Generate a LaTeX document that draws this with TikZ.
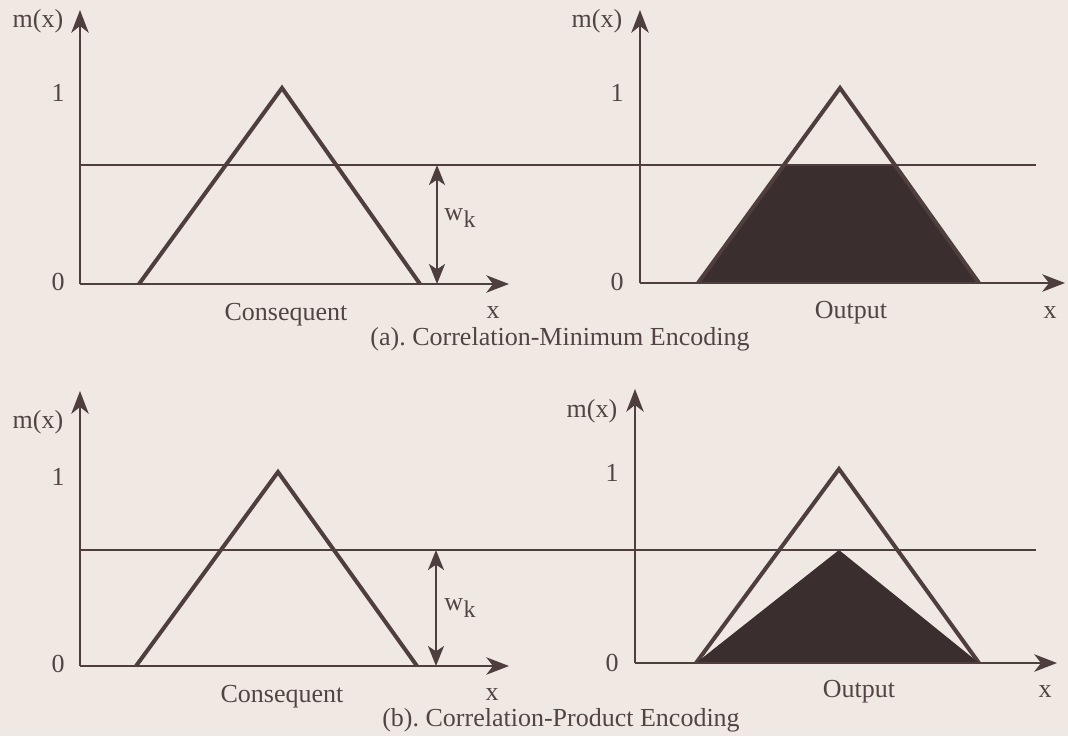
\documentclass[tikz,border=0pt]{standalone}
\usepackage{fontspec}
\setmainfont{Liberation Serif}
\usetikzlibrary{arrows.meta}
\frenchspacing
\definecolor{paper}{RGB}{240,233,227}
\definecolor{ink}{RGB}{78,62,62}
\definecolor{inkfill}{RGB}{58,46,46}
\definecolor{txt}{RGB}{82,68,68}
\newcommand{\wksym}{w\kern0.5pt\raisebox{-0.55ex}{\fontsize{18}{20}\selectfont k}}
\tikzset{
  axis/.style={draw=ink, line width=2pt, -{Stealth[length=17pt,width=13pt,inset=5pt]}},
  level/.style={draw=ink, line width=2pt},
  tri/.style={draw=ink, line width=3pt, line join=miter},
  shade/.style={fill=inkfill},
  wkarrow/.style={draw=ink, line width=1.6pt, {Stealth[length=15pt,width=12pt,inset=4pt]}-{Stealth[length=15pt,width=12pt,inset=4pt]}},
  lbl/.style={font=\fontsize{19.5}{22}\selectfont, text=txt, inner sep=0pt},
}
\begin{document}
\begin{tikzpicture}[x=0.75pt, y=-0.75pt]
\fill[paper] (0,0) rectangle (1068,736);
\useasboundingbox (0,0) rectangle (1068,736);

% ---------- (a) left ----------
\coordinate (aLo) at (80,284);
\coordinate (aLy) at (80,10);
\coordinate (aLx) at (509,284);
\draw[axis] (aLo) -- (aLy);
\draw[axis] (aLo) -- (aLx);
\coordinate (aLb1) at (139,284);
\coordinate (aLp) at (282,88);
\coordinate (aLb2) at (420,284);
\draw[tri] (aLb1) -- (aLp) -- (aLb2);
\coordinate (aHs) at (80,165);
\coordinate (aHe) at (1036,165);
\draw[level] (aHs) -- (aHe);
\coordinate (aW1) at (437,165);
\coordinate (aW2) at (437,284);
\draw[wkarrow] (aW1) -- (aW2);
\node[lbl] (aLwk) at (460,218) {\wksym};
\node[lbl] (aLm) at (38,21) {m(x)};
\node[lbl] (aL1) at (58,93) {1};
\node[lbl] (aL0) at (58,282) {0};
\node[lbl] (aLcons) at (286,315) {Consequent};
\node[lbl] (aLxl) at (493,313) {x};

% ---------- (a) right ----------
\coordinate (aRo) at (640,283);
\coordinate (aRy) at (640,10);
\coordinate (aRx) at (1065,283);
\fill[shade] (698,283) -- (784,165) -- (895,165) -- (979,283) -- cycle;
\coordinate (aRb1) at (698,283);
\coordinate (aRp) at (840,88);
\coordinate (aRb2) at (979,283);
\draw[tri] (aRb1) -- (aRp) -- (aRb2);
\draw[level] (aHs) -- (aHe);
\draw[axis] (aRo) -- (aRy);
\draw[axis] (aRo) -- (aRx);
\node[lbl] (aRm) at (597,21) {m(x)};
\node[lbl] (aR1) at (617,93) {1};
\node[lbl] (aR0) at (617,282) {0};
\node[lbl] (aRout) at (851,313) {Output};
\node[lbl] (aRxl) at (1050,313) {x};

\node[lbl] (capA) at (560,339) {(a). Correlation-Minimum Encoding};

% ---------- (b) left ----------
\coordinate (bLo) at (80,666);
\coordinate (bLy) at (80,391);
\coordinate (bLx) at (509,666);
\draw[axis] (bLo) -- (bLy);
\draw[axis] (bLo) -- (bLx);
\coordinate (bLb1) at (136,666);
\coordinate (bLp) at (278,472);
\coordinate (bLb2) at (417,666);
\draw[tri] (bLb1) -- (bLp) -- (bLb2);
\coordinate (bHs) at (80,550);
\coordinate (bHe) at (1036,550);
\draw[level] (bHs) -- (bHe);
\coordinate (bW1) at (436,550);
\coordinate (bW2) at (436,666);
\draw[wkarrow] (bW1) -- (bW2);
\node[lbl] (bLwk) at (460,608) {\wksym};
\node[lbl] (bLm) at (38,422) {m(x)};
\node[lbl] (bL1) at (58,477) {1};
\node[lbl] (bL0) at (58,664) {0};
\node[lbl] (bLcons) at (282,697) {Consequent};
\node[lbl] (bLxl) at (492,695) {x};

% ---------- (b) right ----------
\coordinate (bRo) at (635,663);
\coordinate (bRy) at (635,389);
\coordinate (bRx) at (1057,663);
\coordinate (bRb1) at (696,663);
\coordinate (bRp) at (839,469);
\coordinate (bRb2) at (979,663);
\draw[tri] (bRb1) -- (bRp) -- (bRb2);
\fill[shade] (696,663) -- (839,550) -- (979,663) -- cycle;
\draw[level] (bHs) -- (bHe);
\draw[axis] (bRo) -- (bRy);
\draw[axis] (bRo) -- (bRx);
\node[lbl] (bRm) at (592,411) {m(x)};
\node[lbl] (bR1) at (612,473) {1};
\node[lbl] (bR0) at (612,663) {0};
\node[lbl] (bRout) at (859,692) {Output};
\node[lbl] (bRxl) at (1045,692) {x};

\node[lbl] (capB) at (561,720) {(b). Correlation-Product Encoding};
\end{tikzpicture}
\end{document}
